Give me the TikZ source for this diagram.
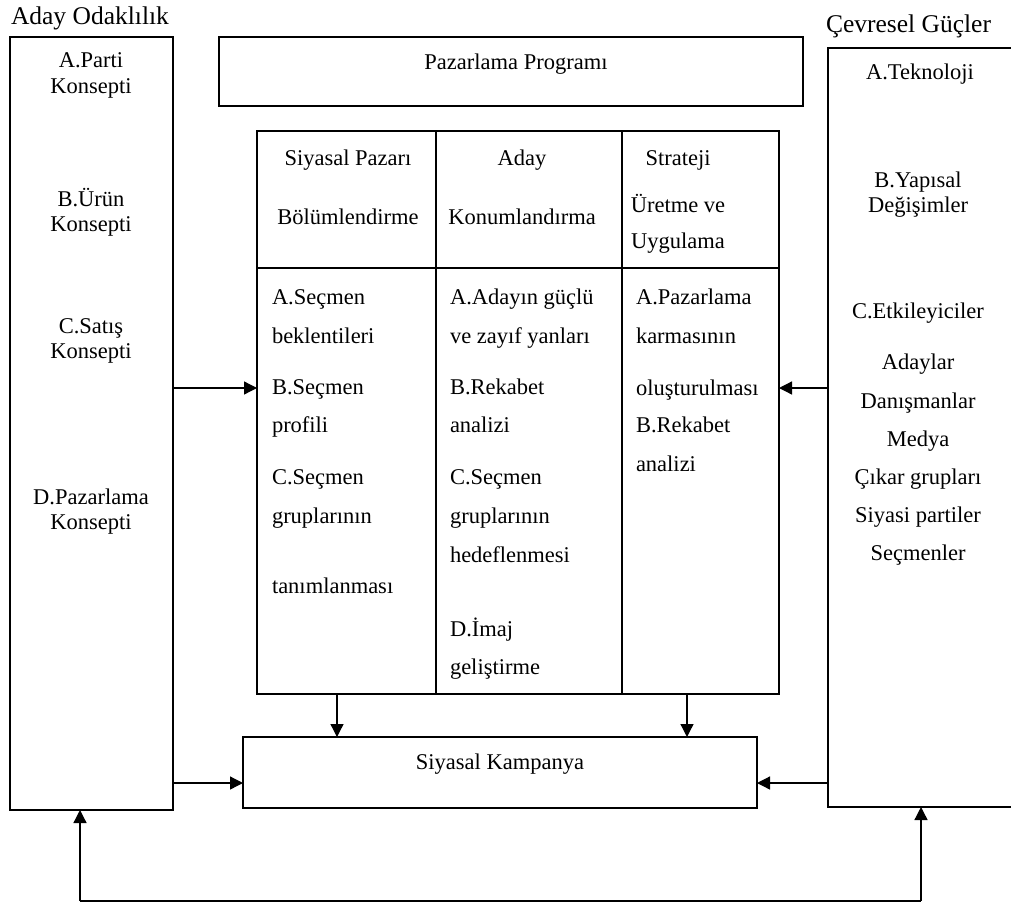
\documentclass[tikz,border=0pt]{standalone}
\usepackage{fontspec}
\setmainfont{Liberation Serif}
\usetikzlibrary{arrows.meta}
\begin{document}
\begin{tikzpicture}[x=1pt,y=-1pt,
  box/.style={draw,line width=1.6pt,rectangle,inner sep=0pt,outer sep=0pt},
  arr/.style={line width=1.3pt,-{Triangle[length=13pt,width=13pt]}},
  conn/.style={line width=1.3pt},
  txt/.style={inner sep=0pt,outer sep=0pt,font=\fontsize{22.5}{26}\selectfont},
  lt/.style={txt,anchor=base west},
  ct/.style={txt,anchor=base},
  title/.style={lt,font=\fontsize{25.5}{30}\selectfont}]
\useasboundingbox (0,0) rectangle (1011,904);

% main boxes
\node[box,minimum width=163pt,minimum height=773pt] (lbox) at (91.5,423.5) {};
\node[box,minimum width=187pt,minimum height=759pt] (rbox) at (921.5,427.5) {};
\node[box,minimum width=584pt,minimum height=69pt] (prog) at (511,71.5) {};
\node[box,minimum width=522pt,minimum height=563pt] (tab) at (518,412.5) {};
\node[box,minimum width=514pt,minimum height=71pt] (kamp) at (500,772.5) {};

% table rules
\coordinate (h1) at (257,268);
\coordinate (h2) at (779,268);
\coordinate (v1t) at (436,131);
\coordinate (v1b) at (436,694);
\coordinate (v2t) at (622,131);
\coordinate (v2b) at (622,694);
\draw[line width=1.6pt] (h1) -- (h2);
\draw[line width=1.6pt] (v1t) -- (v1b);
\draw[line width=1.6pt] (v2t) -- (v2b);

% titles
\node[title] (tl) at (11,25) {Aday Odaklılık};
\node[title] (tr) at (826,33) {Çevresel Güçler};
\node[ct] (tp) at (516,70) {Pazarlama Programı};
\node[ct] (tk) at (500,769) {Siyasal Kampanya};

% left column
\node[ct] (l1) at (91,68) {A.Parti};
\node[ct] (l2) at (91,94) {Konsepti};
\node[ct] (l3) at (91,206) {B.Ürün};
\node[ct] (l4) at (91,231) {Konsepti};
\node[ct] (l5) at (91,333) {C.Satış};
\node[ct] (l6) at (91,358) {Konsepti};
\node[ct] (l7) at (91,504) {D.Pazarlama};
\node[ct] (l8) at (91,529) {Konsepti};

% right column
\node[ct] (r1) at (920,80) {A.Teknoloji};
\node[ct] (r2) at (918,187) {B.Yapısal};
\node[ct] (r3) at (918,212) {Değişimler};
\node[ct] (r4) at (918,318) {C.Etkileyiciler};
\node[ct] (r5) at (918,369) {Adaylar};
\node[ct] (r6) at (918,408) {Danışmanlar};
\node[ct] (r7) at (918,446) {Medya};
\node[ct] (r8) at (918,484) {Çıkar grupları};
\node[ct] (r9) at (918,522) {Siyasi partiler};
\node[ct] (r10) at (918,560) {Seçmenler};

% table headers
\node[ct] (a1) at (348,166) {Siyasal Pazarı};
\node[ct] (a2) at (348,224) {Bölümlendirme};
\node[ct] (b1) at (522,166) {Aday};
\node[ct] (b2) at (522,224) {Konumlandırma};
\node[ct] (c1) at (678,166) {Strateji};
\node[ct] (c2) at (678,212) {Üretme ve};
\node[ct] (c3) at (678,248) {Uygulama};

% table body, first column
\node[lt] (p1) at (272,304) {A.Seçmen};
\node[lt] (p2) at (272,343) {beklentileri};
\node[lt] (p3) at (272,394) {B.Seçmen};
\node[lt] (p4) at (272,432) {profili};
\node[lt] (p5) at (272,484) {C.Seçmen};
\node[lt] (p6) at (272,523) {gruplarının};
\node[lt] (p7) at (272,593) {tanımlanması};

% table body, second column
\node[lt] (q1) at (450,304) {A.Adayın güçlü};
\node[lt] (q2) at (450,343) {ve zayıf yanları};
\node[lt] (q3) at (450,394) {B.Rekabet};
\node[lt] (q4) at (450,432) {analizi};
\node[lt] (q5) at (450,484) {C.Seçmen};
\node[lt] (q6) at (450,523) {gruplarının};
\node[lt] (q7) at (450,562) {hedeflenmesi};
\node[lt] (q8) at (450,636) {D.İmaj};
\node[lt] (q9) at (450,674) {geliştirme};

% table body, third column
\node[lt] (s1) at (636,304) {A.Pazarlama};
\node[lt] (s2) at (636,343) {karmasının};
\node[lt] (s3) at (636,395) {oluşturulması};
\node[lt] (s4) at (636,432) {B.Rekabet};
\node[lt] (s5) at (636,471) {analizi};

% connectors
\draw[arr] (lbox.east |- 0,388) -- (tab.west |- 0,388);
\draw[arr] (rbox.west |- 0,388) -- (tab.east |- 0,388);
\draw[arr] (lbox.east |- 0,783) -- (kamp.west |- 0,783);
\draw[arr] (rbox.west |- 0,783) -- (kamp.east |- 0,783);
\draw[arr] (tab.south -| 337,0) -- (kamp.north -| 337,0);
\draw[arr] (tab.south -| 687,0) -- (kamp.north -| 687,0);

% feedback loop along the bottom
\coordinate (fl) at (80,901);
\coordinate (fr) at (921,901);
\draw[conn] (fl) -- (fr);
\draw[arr] (fl) -- (lbox.south -| fl);
\draw[arr] (fr) -- (rbox.south -| fr);
\end{tikzpicture}
\end{document}
